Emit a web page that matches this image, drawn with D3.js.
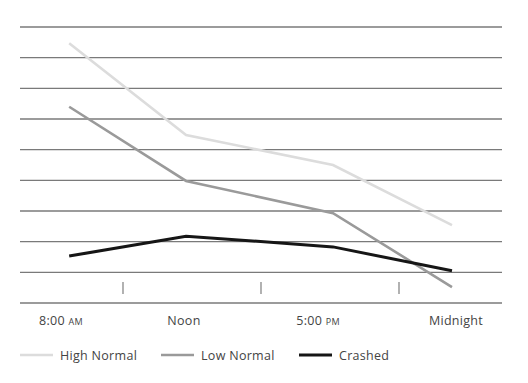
<!DOCTYPE html>
<html>
<head>
<meta charset="utf-8">
<script src="https://cdn.jsdelivr.net/npm/d3@7"></script>
<style>
  html, body { margin: 0; padding: 0; background: #fff; }
  text { font-family: "Open Sans", sans-serif; fill: #444; }
</style>
</head>
<body>
<svg id="chart" width="528" height="383"></svg>
<script>
// ---- data ----
// x positions in slot units (ticks sit at 1, 2, 3)
const pointSlots = [0.61, 1.457, 2.522, 3.384];
const timeLabels = [
  { main: "8:00 ", small: "AM" },
  { main: "Noon", small: "" },
  { main: "5:00 ", small: "PM" },
  { main: "Midnight", small: "" }
];
const labelSlots = [0.551, 1.442, 2.413, 3.413];
const tickSlots = [1, 2, 3];
const seriesNames = ["High Normal", "Low Normal", "Crashed"];
const highNormal = [8.47, 5.48, 4.5, 2.54];
const lowNormal = [6.4, 3.98, 2.93, 0.52];
const crashed = [1.53, 2.18, 1.83, 1.05];
const gridValues = [0, 1, 2, 3, 4, 5, 6, 7, 8, 9];

// ---- drawing ----
const svg = d3.select("#chart");
const x = d3.scaleLinear().domain([1, 3]).range([123, 399]);
const y = d3.scaleLinear().domain([0, 9]).range([303, 27]);
const gridX0 = 20, gridX1 = 502;

svg.append("g").selectAll("line").data(gridValues).join("line")
  .attr("x1", gridX0).attr("x2", gridX1)
  .attr("y1", d => y(d)).attr("y2", d => y(d))
  .attr("stroke", "#7a7a7a").attr("stroke-width", 1.3);

svg.append("g").selectAll("line").data(tickSlots).join("line")
  .attr("x1", d => x(d)).attr("x2", d => x(d))
  .attr("y1", y(0) - 21).attr("y2", y(0) - 9)
  .attr("stroke", "#888").attr("stroke-width", 1.3);

const series = [
  { name: seriesNames[0], values: highNormal, color: "#dcdcdc", width: 2.6 },
  { name: seriesNames[1], values: lowNormal, color: "#9a9a9a", width: 2.6 },
  { name: seriesNames[2], values: crashed, color: "#161616", width: 3 }
];

const line = d3.line().x((d, i) => x(pointSlots[i])).y(d => y(d));
svg.append("g").selectAll("path").data(series).join("path")
  .attr("d", d => line(d.values))
  .attr("fill", "none")
  .attr("stroke", d => d.color)
  .attr("stroke-width", d => d.width)
  .attr("stroke-linejoin", "miter");

const lbl = svg.append("g").selectAll("text").data(timeLabels).join("text")
  .attr("x", (d, i) => x(labelSlots[i]))
  .attr("y", 325)
  .attr("text-anchor", "middle")
  .attr("font-size", 12.5)
  .attr("letter-spacing", 0.3);
lbl.append("tspan").text(d => d.main);
lbl.append("tspan").attr("font-size", 9).text(d => d.small);

// legend
const legendX = [20, 161, 299];
const lg = svg.append("g").selectAll("g").data(series).join("g")
  .attr("transform", (d, i) => `translate(${legendX[i]},355)`);
lg.append("line").attr("x1", 0).attr("x2", 33).attr("y1", 0).attr("y2", 0)
  .attr("stroke", d => d.color).attr("stroke-width", d => d.width);
lg.append("text").attr("x", 40).attr("y", 4.5)
  .attr("font-size", 12.5).attr("letter-spacing", 0.3)
  .text(d => d.name);
</script>
</body>
</html>
